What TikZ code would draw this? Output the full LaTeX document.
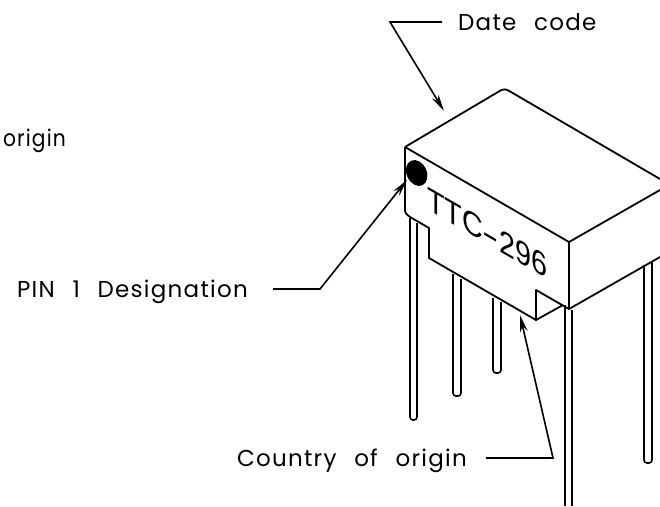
\documentclass[tikz,border=0pt]{standalone}
\usepackage{fontspec}
\setmainfont[LetterSpace=5.5,WordSpace=2.4]{Poppins}
\newfontfamily\partfont{Liberation Sans}
\usetikzlibrary{arrows.meta}
\tikzset{
  outline/.style={line width=1.8pt, line join=round},
  pin/.style={line width=1.6pt, rounded corners=3pt},
  leader/.style={line width=1.6pt, -{Stealth[length=17pt, width=7.5pt]}},
  callout/.style={inner ysep=0pt, text height=16pt, text depth=0pt, font=\fontsize{23}{27}\selectfont}
}
\begin{document}
\begin{tikzpicture}[x=1pt, y=-1pt]
\useasboundingbox (0, 0) rectangle (660, 506);

% pins
\draw[pin] (410, 218) -- (410, 420) -- (417, 420) -- (417, 223);
\draw[pin] (453, 274) -- (453, 396) -- (461, 396) -- (461, 279);
\draw[pin] (493, 298) -- (493, 373) -- (501, 373) -- (501, 302);
\draw[pin] (644, 265) -- (644, 463) -- (652, 463) -- (652, 261);
\draw[line width=1.6pt] (565, 305) -- (565, 506);
\draw[line width=1.6pt] (572, 310) -- (572, 506);

% body
\draw[outline] (405, 147) -- (498, 92) .. controls (504, 88) and (506, 89) .. (511, 92) -- (660, 179);
\draw[outline] (405, 147) -- (569, 242) -- (660, 190);
\draw[outline] (569, 242) -- (569, 309) -- (660, 257);
\draw[outline] (405, 147) -- (405, 208) .. controls (405, 213) .. (410, 217) -- (429, 228) -- (429, 258) -- (536, 320) -- (563, 305);
\draw[outline] (536, 320) -- (536, 290) -- (569, 309);

% marking
\fill[rotate around={25:(416.7, 173)}] (416.7, 173) ellipse (10pt and 13.5pt);
\node[yslant=-0.577, xscale=0.87, font=\partfont\fontsize{33}{36}\selectfont, inner sep=0pt] (partnum) at (487, 233) {TTC\scalebox{1.7}[1]{-}296};

% labels
\node[callout, anchor=west, inner xsep=16pt] (datecode) at (442, 22) {Date code};
\node[callout, anchor=east, inner xsep=25pt] (pinone) at (273, 289) {PIN 1 Designation};
\node[callout, anchor=east, inner xsep=19pt] (country) at (486, 458) {Country of origin};
\node[callout, anchor=east, inner xsep=0pt, xscale=0.88] (origin) at (66, 138) {origin};

% leaders
\coordinate (dateelbow) at (390, 22);
\coordinate (datetip) at (444, 111);
\coordinate (pinelbow) at (320, 289);
\coordinate (pintip) at (407, 180);
\coordinate (countryelbow) at (553, 458);
\coordinate (countrytip) at (520, 315);
\draw[leader] (datecode.west) -- (dateelbow) -- (datetip);
\draw[leader] (pinone.east) -- (pinelbow) -- (pintip);
\draw[leader] (country.east) -- (countryelbow) -- (countrytip);
\end{tikzpicture}
\end{document}
